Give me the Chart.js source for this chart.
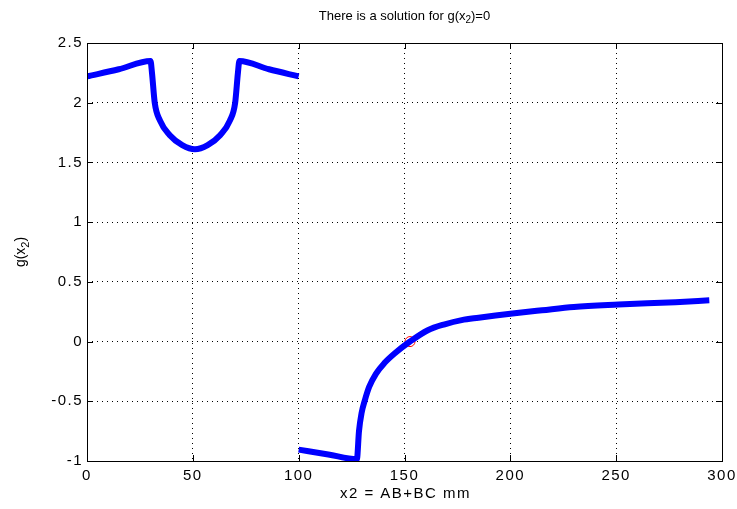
<!DOCTYPE html>
<html>
<head>
<meta charset="utf-8">
<script src="https://cdn.jsdelivr.net/npm/chart.js@4.4.1/dist/chart.umd.min.js"></script>
<style>
  html, body { margin: 0; padding: 0; background: #fff; }
</style>
</head>
<body>
<canvas id="chart" width="737" height="509"></canvas>
<script>
// values
const upperX = [0, 15, 30, 30.7, 32, 34.5, 39, 45, 51, 57, 63, 67.5, 70, 71.3, 72, 86, 100];
const upperY = [2.22, 2.28, 2.35, 2.25, 2.0, 1.85, 1.73, 1.645, 1.61, 1.645, 1.73, 1.85, 2.0, 2.25, 2.35, 2.28, 2.22];

const lowerX = [100, 114, 127.5, 128.5, 129.7, 131.3, 133.3, 136.5, 140.5, 145.3, 152.6, 161, 169, 177, 185, 193, 201, 215, 230, 251, 278, 294];
const lowerY = [-0.905, -0.945, -0.985, -0.75, -0.6, -0.49, -0.38, -0.27, -0.18, -0.1, 0, 0.095, 0.145, 0.18, 0.2, 0.218, 0.235, 0.262, 0.29, 0.31, 0.33, 0.345];

const rootX = [152.6];
const rootY = [0];

const xTicks = [0, 50, 100, 150, 200, 250, 300];
const yTicks = [-1, -0.5, 0, 0.5, 1, 1.5, 2, 2.5];

const FONT = "'Liberation Sans', Arial, sans-serif";

function toPoints(xs, ys) {
    return xs.map((x, i) => ({ x: x, y: ys[i] }));
}

// text with a subscript part, e.g. g(x2)
function drawParts(ctx, parts, x, y, size, rotate, spacing) {
    ctx.save();
    ctx.letterSpacing = spacing || '0px';
    ctx.translate(x, y);
    if (rotate) ctx.rotate(-Math.PI / 2);
    ctx.fillStyle = '#000';
    ctx.textBaseline = 'middle';
    ctx.textAlign = 'left';
    let total = 0;
    parts.forEach(p => {
        ctx.font = (p.sub ? Math.round(size * 0.75) : size) + 'px ' + FONT;
        total += ctx.measureText(p.t).width;
    });
    let cx = -total / 2;
    parts.forEach(p => {
        ctx.font = (p.sub ? Math.round(size * 0.75) : size) + 'px ' + FONT;
        ctx.fillText(p.t, cx, p.sub ? size * 0.35 : 0);
        cx += ctx.measureText(p.t).width;
    });
    ctx.restore();
}

const matlabFrame = {
    id: 'matlabFrame',
    beforeDraw(chart) {
        // the reference tick labels are spaced out a bit
        chart.ctx.letterSpacing = '1.5px';
    },
    afterDraw(chart) {
        const ctx = chart.ctx;
        const a = chart.chartArea;
        const xs = chart.scales.x, ys = chart.scales.y;
        const tl = 6;
        ctx.save();
        ctx.strokeStyle = '#000';
        ctx.lineWidth = 1;
        ctx.beginPath();
        xTicks.forEach(v => {
            const px = Math.round(xs.getPixelForValue(v)) + 0.5;
            ctx.moveTo(px, a.bottom); ctx.lineTo(px, a.bottom - tl);
            ctx.moveTo(px, a.top); ctx.lineTo(px, a.top + tl);
        });
        yTicks.forEach(v => {
            const py = Math.round(ys.getPixelForValue(v)) + 0.5;
            ctx.moveTo(a.left, py); ctx.lineTo(a.left + tl, py);
            ctx.moveTo(a.right, py); ctx.lineTo(a.right - tl, py);
        });
        ctx.stroke();
        ctx.strokeRect(Math.round(a.left) + 0.5, Math.round(a.top) + 0.5,
            Math.round(a.right - a.left), Math.round(a.bottom - a.top));
        ctx.restore();

        const midX = (a.left + a.right) / 2;
        drawParts(ctx, [{ t: 'There is a solution for g(x' }, { t: '2', sub: true }, { t: ')=0' }], midX, 16, 13, false);
        drawParts(ctx, [{ t: 'x2 = AB+BC mm' }], midX + 1, 494, 15, false, '1.5px');
        drawParts(ctx, [{ t: 'g(x' }, { t: '2', sub: true }, { t: ')' }], 21, (a.top + a.bottom) / 2, 14, true);
        ctx.letterSpacing = '0px';
    }
};

new Chart(document.getElementById('chart'), {
    type: 'line',
    data: {
        datasets: [
            {
                data: toPoints(upperX, upperY),
                borderColor: '#0000ff',
                borderWidth: 6,
                borderJoinStyle: 'miter',
                pointRadius: 0,
                cubicInterpolationMode: 'monotone',
                fill: false
            },
            {
                data: toPoints(lowerX, lowerY),
                borderColor: '#0000ff',
                borderWidth: 6,
                borderJoinStyle: 'miter',
                pointRadius: 0,
                cubicInterpolationMode: 'monotone',
                fill: false
            },
            {
                data: toPoints(rootX, rootY),
                showLine: false,
                pointRadius: 5,
                pointStyle: 'circle',
                pointBorderColor: '#ff0000',
                pointBackgroundColor: 'rgba(0,0,0,0)',
                pointBorderWidth: 1
            }
        ]
    },
    options: {
        responsive: false,
        animation: false,
        devicePixelRatio: 1,
        layout: { padding: { left: 0, right: 15, top: 43, bottom: 0 } },
        plugins: {
            legend: { display: false },
            tooltip: { enabled: false },
            title: { display: false }
        },
        scales: {
            x: {
                type: 'linear',
                min: 0,
                max: 300,
                afterBuildTicks: s => { s.ticks = xTicks.map(v => ({ value: v })); },
                afterFit: s => { s.height = 48; s.paddingLeft = 0; s.paddingRight = 0; },
                grid: { color: '#000', lineWidth: 1, drawTicks: false },
                border: { display: false, dash: [1, 4] },
                ticks: { color: '#000', padding: 6, font: { family: FONT, size: 15 } }
            },
            y: {
                type: 'linear',
                min: -1,
                max: 2.5,
                afterBuildTicks: s => { s.ticks = yTicks.map(v => ({ value: v })); },
                afterFit: s => { s.width = 87; },
                grid: { color: '#000', lineWidth: 1, drawTicks: false },
                border: { display: false, dash: [1, 4] },
                ticks: {
                    color: '#000',
                    padding: 4,
                    font: { family: FONT, size: 15 },
                    callback: v => String(v)
                }
            }
        }
    },
    plugins: [matlabFrame]
});
</script>
</body>
</html>
